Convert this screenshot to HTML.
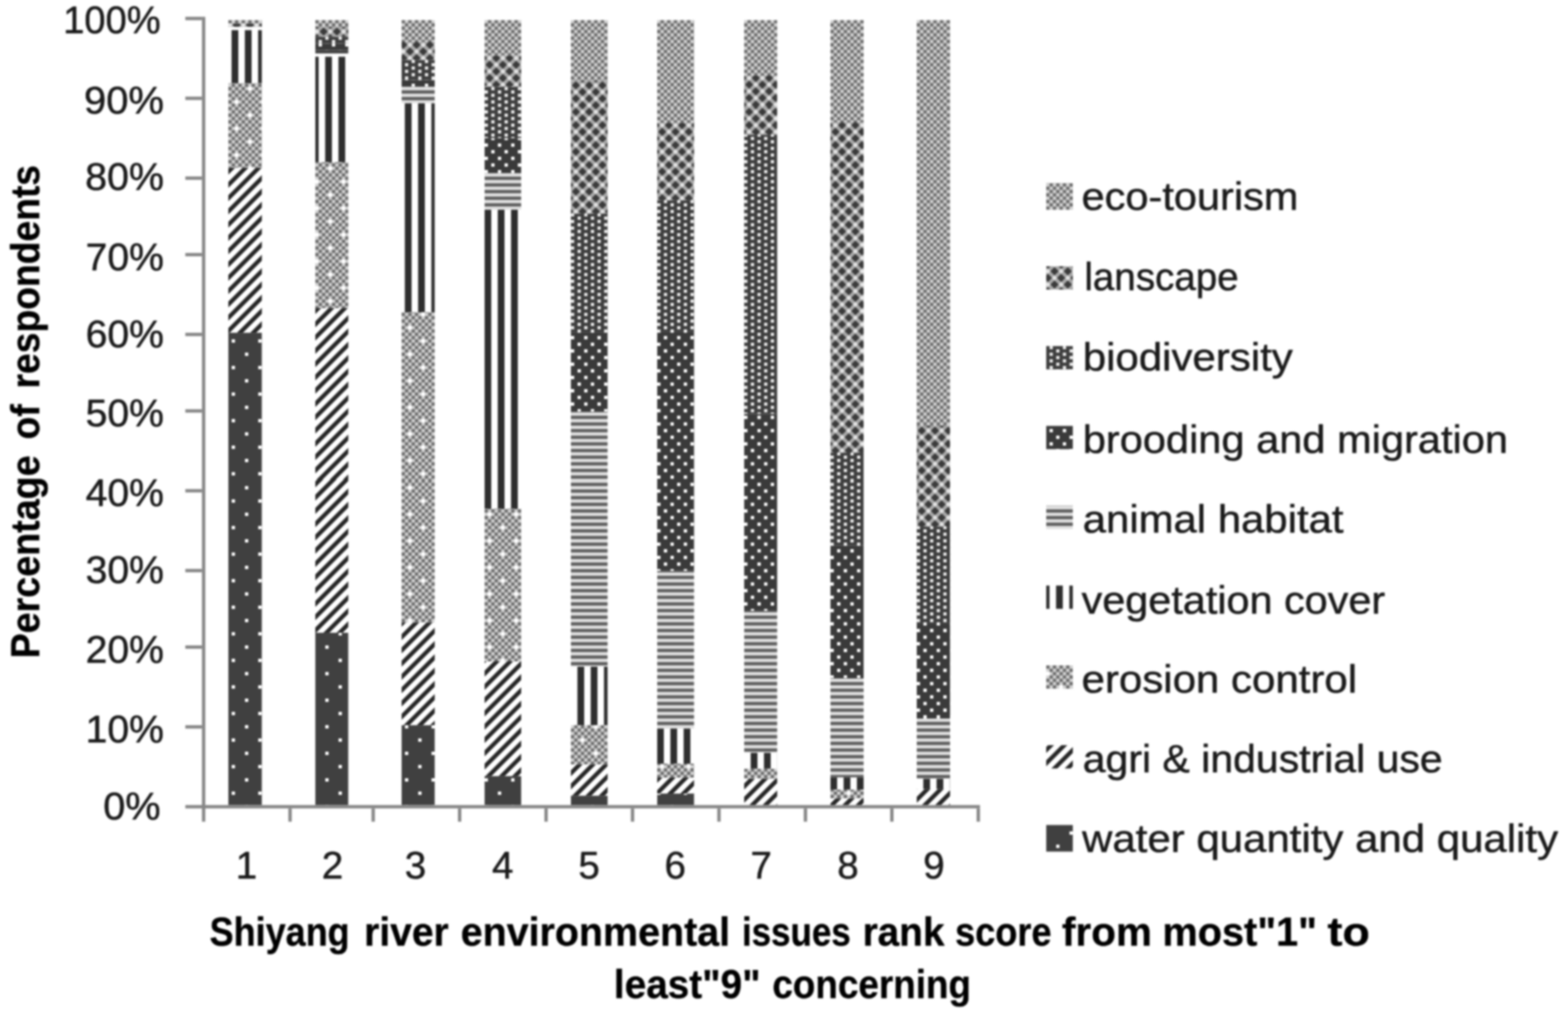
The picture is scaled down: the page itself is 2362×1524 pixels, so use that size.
<!DOCTYPE html>
<html lang="en">
<head>
<meta charset="utf-8">
<title>Shiyang river environmental issues rank score</title>
<style>
html,body{margin:0;padding:0;background:#fff;}
body{width:2362px;height:1524px;overflow:hidden;}
svg{display:block;}
text{font-family:"Liberation Sans", sans-serif;fill:#1a1a1a;stroke:#1a1a1a;stroke-width:0.7px;stroke-linejoin:round;}
</style>
</head>
<body>
<svg width="2362" height="1524" viewBox="0 0 2362 1524">
<defs>
<pattern id="eco" patternUnits="userSpaceOnUse" x="0" y="0" width="2" height="2" patternTransform="scale(5)"><rect width="2" height="2" fill="#d1d1d1"/><rect x="1" y="0" width="1" height="1" fill="#6e6e6e"/><rect x="0" y="1" width="1" height="1" fill="#6e6e6e"/></pattern>
<pattern id="land" patternUnits="userSpaceOnUse" x="0" y="0" width="4" height="4" patternTransform="scale(5)"><rect width="4" height="4" fill="#a8a8a8"/><polygon points="0.25,1.5 1.5,0.25 2.75,1.5 1.5,2.75" fill="#3a3a3a"/><polygon points="2.25,3.5 3.5,2.25 4.75,3.5 3.5,4.75" fill="#3a3a3a"/><polygon points="-1.75,-0.5 -0.5,-1.75 0.75,-0.5 -0.5,0.75" fill="#3a3a3a"/><polygon points="2.25,-0.5 3.5,-1.75 4.75,-0.5 3.5,0.75" fill="#3a3a3a"/><polygon points="-1.75,3.5 -0.5,2.25 0.75,3.5 -0.5,4.75" fill="#3a3a3a"/><polygon points="2.75,1.5 3.5,0.75 4.25,1.5 3.5,2.25" fill="#e8e8e8"/><polygon points="-1.25,1.5 -0.5,0.75 0.25,1.5 -0.5,2.25" fill="#e8e8e8"/><polygon points="0.75,3.5 1.5,2.75 2.25,3.5 1.5,4.25" fill="#e8e8e8"/><polygon points="0.75,-0.5 1.5,-1.25 2.25,-0.5 1.5,0.25" fill="#e8e8e8"/></pattern>
<pattern id="bio" patternUnits="userSpaceOnUse" x="0" y="0" width="4" height="2" patternTransform="scale(5)"><rect width="4" height="2" fill="#3e3e3e"/><rect x="0.02" y="0.02" width="0.96" height="0.96" fill="#f2f2f2"/><rect x="2.02" y="1.02" width="0.96" height="0.96" fill="#f2f2f2"/></pattern>
<pattern id="brood" patternUnits="userSpaceOnUse" x="0" y="0" width="4" height="4" patternTransform="scale(5)"><rect width="4" height="4" fill="#3a3a3a"/><rect x="0" y="1" width="1" height="1" fill="#fff"/><rect x="2" y="3" width="1" height="1" fill="#fff"/></pattern>
<pattern id="hab" patternUnits="userSpaceOnUse" x="0" y="0" width="2" height="2" patternTransform="scale(5)"><rect width="2" height="2" fill="#dfdfdf"/><rect x="0" y="1" width="2" height="1" fill="#606060"/></pattern>
<pattern id="veg" patternUnits="userSpaceOnUse" x="0" y="0" width="4" height="4" patternTransform="scale(5)"><rect width="4" height="4" fill="#fff"/><rect x="1.96" y="0" width="2.08" height="4" fill="#2e2e2e"/></pattern>
<pattern id="ero" patternUnits="userSpaceOnUse" x="0" y="0" width="8" height="8" patternTransform="scale(5)"><rect width="8" height="8" fill="#d1d1d1"/><rect x="1" y="0" width="1" height="1" fill="#6e6e6e"/><rect x="3" y="0" width="1" height="1" fill="#6e6e6e"/><rect x="5" y="0" width="1" height="1" fill="#6e6e6e"/><rect x="7" y="0" width="1" height="1" fill="#6e6e6e"/><rect x="0" y="1" width="1" height="1" fill="#6e6e6e"/><rect x="2" y="1" width="1" height="1" fill="#6e6e6e"/><rect x="4" y="1" width="1" height="1" fill="#6e6e6e"/><rect x="6" y="1" width="1" height="1" fill="#6e6e6e"/><rect x="1" y="2" width="1" height="1" fill="#6e6e6e"/><rect x="5" y="2" width="1" height="1" fill="#6e6e6e"/><rect x="7" y="2" width="1" height="1" fill="#6e6e6e"/><rect x="0" y="3" width="1" height="1" fill="#6e6e6e"/><rect x="2" y="3" width="1" height="1" fill="#6e6e6e"/><rect x="4" y="3" width="1" height="1" fill="#6e6e6e"/><rect x="6" y="3" width="1" height="1" fill="#6e6e6e"/><rect x="1" y="4" width="1" height="1" fill="#6e6e6e"/><rect x="3" y="4" width="1" height="1" fill="#6e6e6e"/><rect x="5" y="4" width="1" height="1" fill="#6e6e6e"/><rect x="7" y="4" width="1" height="1" fill="#6e6e6e"/><rect x="0" y="5" width="1" height="1" fill="#6e6e6e"/><rect x="2" y="5" width="1" height="1" fill="#6e6e6e"/><rect x="4" y="5" width="1" height="1" fill="#6e6e6e"/><rect x="6" y="5" width="1" height="1" fill="#6e6e6e"/><rect x="1" y="6" width="1" height="1" fill="#6e6e6e"/><rect x="3" y="6" width="1" height="1" fill="#6e6e6e"/><rect x="5" y="6" width="1" height="1" fill="#6e6e6e"/><rect x="0" y="7" width="1" height="1" fill="#6e6e6e"/><rect x="2" y="7" width="1" height="1" fill="#6e6e6e"/><rect x="4" y="7" width="1" height="1" fill="#6e6e6e"/><rect x="6" y="7" width="1" height="1" fill="#6e6e6e"/><rect x="2.92" y="1.92" width="1.16" height="1.16" fill="#fff"/><rect x="6.92" y="5.92" width="1.16" height="1.16" fill="#fff"/></pattern>
<pattern id="agri" patternUnits="userSpaceOnUse" x="0" y="0" width="4" height="4" patternTransform="scale(5)"><rect width="4" height="4" fill="#fff"/><polygon points="1.60,-2 3.40,-2 -4.60,6 -6.40,6" fill="#262626"/><polygon points="5.60,-2 7.40,-2 -0.60,6 -2.40,6" fill="#262626"/><polygon points="9.60,-2 11.40,-2 3.40,6 1.60,6" fill="#262626"/></pattern>
<pattern id="water" patternUnits="userSpaceOnUse" x="0" y="0" width="8" height="8" patternTransform="scale(5)"><rect width="8" height="8" fill="#404040"/><rect x="6" y="6" width="1" height="1" fill="#ffffff"/><rect x="2" y="2" width="1" height="1" fill="#ffffff"/></pattern>
<pattern id="eco0" href="#eco" patternTransform="translate(9 0) scale(5)"/>
<pattern id="land1" href="#land" patternTransform="translate(19 0) scale(5)"/>
<pattern id="veg2" href="#veg" patternTransform="translate(19 0) scale(5)"/>
<pattern id="ero3" href="#ero" patternTransform="translate(39 1) scale(5)"/>
<pattern id="agri4" href="#agri" patternTransform="translate(19 1) scale(5)"/>
<pattern id="water5" href="#water" patternTransform="translate(39 1) scale(5)"/>
<pattern id="water6" href="#water" patternTransform="translate(39 2) scale(5)"/>
<pattern id="eco7" href="#eco" patternTransform="translate(0 0) scale(5)"/>
<pattern id="land8" href="#land" patternTransform="translate(0 0) scale(5)"/>
<pattern id="bio9" href="#bio" patternTransform="translate(0 0) scale(5)"/>
<pattern id="brood10" href="#brood" patternTransform="translate(0 0) scale(5)"/>
<pattern id="veg11" href="#veg" patternTransform="translate(0 0) scale(5)"/>
<pattern id="veg12" href="#veg" patternTransform="translate(0 1) scale(5)"/>
<pattern id="ero13" href="#ero" patternTransform="translate(0 1) scale(5)"/>
<pattern id="agri14" href="#agri" patternTransform="translate(0 1) scale(5)"/>
<pattern id="agri15" href="#agri" patternTransform="translate(0 2) scale(5)"/>
<pattern id="water16" href="#water" patternTransform="translate(0 2) scale(5)"/>
<pattern id="brood17" href="#brood" patternTransform="translate(0 1) scale(5)"/>
<pattern id="hab18" href="#hab" patternTransform="translate(0 1) scale(5)"/>
<pattern id="ero19" href="#ero" patternTransform="translate(0 2) scale(5)"/>
<pattern id="bio20" href="#bio" patternTransform="translate(0 1) scale(5)"/>
<pattern id="veg21" href="#veg" patternTransform="translate(0 2) scale(5)"/>
<pattern id="land22" href="#land" patternTransform="translate(0 1) scale(5)"/>
<pattern id="hab23" href="#hab" patternTransform="translate(0 2) scale(5)"/>
<pattern id="eco24" href="#eco" patternTransform="translate(0 1) scale(5)"/>
<pattern id="brood25" href="#brood" patternTransform="translate(0 2) scale(5)"/>
<pattern id="eco26" href="#eco" patternTransform="translate(1 0) scale(5)"/>
<pattern id="land27" href="#land" patternTransform="translate(1 0) scale(5)"/>
<pattern id="land28" href="#land" patternTransform="translate(1 1) scale(5)"/>
<pattern id="bio29" href="#bio" patternTransform="translate(1 1) scale(5)"/>
<pattern id="brood30" href="#brood" patternTransform="translate(1 1) scale(5)"/>
<pattern id="brood31" href="#brood" patternTransform="translate(1 2) scale(5)"/>
<pattern id="hab32" href="#hab" patternTransform="translate(1 2) scale(5)"/>
<pattern id="veg33" href="#veg" patternTransform="translate(1 2) scale(5)"/>
<pattern id="ero34" href="#ero" patternTransform="translate(1 2) scale(5)"/>
<pattern id="agri35" href="#agri" patternTransform="translate(1 2) scale(5)"/>
<pattern id="eco36" href="#eco" patternTransform="translate(1 1) scale(5)"/>
<pattern id="bio37" href="#bio" patternTransform="translate(1 2) scale(5)"/>
<pattern id="land38" href="#land" patternTransform="translate(1 2) scale(5)"/>
<pattern id="water39" href="#water" patternTransform="translate(1 2) scale(5)"/>
<filter id="bl" color-interpolation-filters="sRGB" filterUnits="userSpaceOnUse" x="0" y="0" width="2362" height="1524"><feGaussianBlur stdDeviation="1.4"/></filter><filter id="tl" color-interpolation-filters="sRGB" filterUnits="userSpaceOnUse" x="0" y="0" width="2362" height="1524"><feGaussianBlur stdDeviation="1.6"/></filter>
</defs>
<rect width="2362" height="1524" fill="#fff"/>
<g filter="url(#bl)">
<g id="bars">
<rect x="344" y="30.35" width="50.37" height="5.01" fill="url(#eco0)"/>
<rect x="344" y="35.36" width="50.37" height="5.01" fill="url(#land1)"/>
<rect x="344" y="45.38" width="50.37" height="34.62" fill="url(#veg2)"/>
<rect x="344" y="80" width="50.37" height="45.51" fill="url(#veg2)"/>
<rect x="344" y="125.51" width="50.37" height="35.49" fill="url(#ero3)"/>
<rect x="344" y="161" width="50.37" height="80" fill="url(#ero3)"/>
<rect x="344" y="241" width="50.37" height="11.73" fill="url(#ero3)"/>
<rect x="344" y="252.73" width="50.37" height="68.27" fill="url(#agri4)"/>
<rect x="344" y="321" width="50.37" height="80" fill="url(#agri4)"/>
<rect x="344" y="401" width="50.37" height="80" fill="url(#agri4)"/>
<rect x="344" y="481" width="50.37" height="20.15" fill="url(#agri4)"/>
<rect x="344" y="501.15" width="50.37" height="59.85" fill="url(#water5)"/>
<rect x="344" y="561" width="50.37" height="80" fill="url(#water5)"/>
<rect x="344" y="641" width="50.37" height="81" fill="url(#water5)"/>
<rect x="344" y="722" width="50.37" height="80" fill="url(#water6)"/>
<rect x="344" y="802" width="50.37" height="80" fill="url(#water6)"/>
<rect x="344" y="882" width="50.37" height="80" fill="url(#water6)"/>
<rect x="344" y="962" width="50.37" height="80" fill="url(#water6)"/>
<rect x="344" y="1042" width="50.37" height="80" fill="url(#water6)"/>
<rect x="344" y="1122" width="50.37" height="80" fill="url(#water6)"/>
<rect x="344" y="1202" width="50.37" height="10.36" fill="url(#water6)"/>
<rect x="475" y="30.35" width="49.59" height="10.02" fill="url(#eco7)"/>
<rect x="475" y="40.37" width="49.59" height="15.03" fill="url(#land8)"/>
<rect x="475" y="55.39" width="49.59" height="10.02" fill="url(#bio9)"/>
<rect x="475" y="65.41" width="49.59" height="10.02" fill="url(#brood10)"/>
<rect x="475" y="75.43" width="49.59" height="5.01" fill="#404040"/>
<rect x="475" y="85.44" width="49.59" height="75.56" fill="url(#veg11)"/>
<rect x="475" y="161" width="49.59" height="80" fill="url(#veg12)"/>
<rect x="475" y="241" width="49.59" height="3.21" fill="url(#veg12)"/>
<rect x="475" y="244.21" width="49.59" height="76.79" fill="url(#ero13)"/>
<rect x="475" y="321" width="49.59" height="80" fill="url(#ero13)"/>
<rect x="475" y="401" width="49.59" height="63.09" fill="url(#ero13)"/>
<rect x="475" y="464.09" width="49.59" height="16.91" fill="url(#agri14)"/>
<rect x="475" y="481" width="49.59" height="80" fill="url(#agri14)"/>
<rect x="475" y="561" width="49.59" height="80" fill="url(#agri14)"/>
<rect x="475" y="641" width="49.59" height="81" fill="url(#agri14)"/>
<rect x="475" y="722" width="49.59" height="80" fill="url(#agri15)"/>
<rect x="475" y="802" width="49.59" height="80" fill="url(#agri15)"/>
<rect x="475" y="882" width="49.59" height="70.92" fill="url(#agri15)"/>
<rect x="475" y="952.92" width="49.59" height="9.08" fill="url(#water16)"/>
<rect x="475" y="962" width="49.59" height="80" fill="url(#water16)"/>
<rect x="475" y="1042" width="49.59" height="80" fill="url(#water16)"/>
<rect x="475" y="1122" width="49.59" height="80" fill="url(#water16)"/>
<rect x="475" y="1202" width="49.59" height="10.36" fill="url(#water16)"/>
<rect x="605" y="30.35" width="49.81" height="32.56" fill="url(#eco7)"/>
<rect x="605" y="62.91" width="49.81" height="17.09" fill="url(#land8)"/>
<rect x="605" y="80" width="49.81" height="10.45" fill="url(#land8)"/>
<rect x="605" y="90.45" width="49.81" height="30.05" fill="url(#bio9)"/>
<rect x="605" y="120.5" width="49.81" height="10.02" fill="url(#brood17)"/>
<rect x="605" y="130.52" width="49.81" height="25.04" fill="url(#hab18)"/>
<rect x="605" y="155.56" width="49.81" height="5.44" fill="url(#veg12)"/>
<rect x="605" y="161" width="49.81" height="80" fill="url(#veg12)"/>
<rect x="605" y="241" width="49.81" height="80" fill="url(#veg12)"/>
<rect x="605" y="321" width="49.81" height="80" fill="url(#veg12)"/>
<rect x="605" y="401" width="49.81" height="69.1" fill="url(#veg12)"/>
<rect x="605" y="470.1" width="49.81" height="10.9" fill="url(#ero13)"/>
<rect x="605" y="481" width="49.81" height="80" fill="url(#ero13)"/>
<rect x="605" y="561" width="49.81" height="80" fill="url(#ero13)"/>
<rect x="605" y="641" width="49.81" height="81" fill="url(#ero13)"/>
<rect x="605" y="722" width="49.81" height="80" fill="url(#ero19)"/>
<rect x="605" y="802" width="49.81" height="80" fill="url(#ero19)"/>
<rect x="605" y="882" width="49.81" height="55.39" fill="url(#ero19)"/>
<rect x="605" y="937.39" width="49.81" height="24.61" fill="url(#agri15)"/>
<rect x="605" y="962" width="49.81" height="80" fill="url(#agri15)"/>
<rect x="605" y="1042" width="49.81" height="50.15" fill="url(#agri15)"/>
<rect x="605" y="1092.15" width="49.81" height="29.85" fill="url(#water16)"/>
<rect x="605" y="1122" width="49.81" height="80" fill="url(#water16)"/>
<rect x="605" y="1202" width="49.81" height="10.36" fill="url(#water16)"/>
<rect x="730" y="30.35" width="55.03" height="49.65" fill="url(#eco7)"/>
<rect x="730" y="80" width="55.03" height="3.44" fill="url(#eco7)"/>
<rect x="730" y="83.44" width="55.03" height="47.08" fill="url(#land8)"/>
<rect x="730" y="130.52" width="55.03" height="30.48" fill="url(#bio20)"/>
<rect x="730" y="161" width="55.03" height="47.15" fill="url(#bio20)"/>
<rect x="730" y="208.15" width="55.03" height="32.85" fill="url(#brood17)"/>
<rect x="730" y="241" width="55.03" height="19.74" fill="url(#brood17)"/>
<rect x="730" y="260.74" width="55.03" height="55.09" fill="url(#hab18)"/>
<rect x="730" y="315.84" width="55.03" height="5.16" fill="url(#veg12)"/>
<rect x="730" y="321" width="55.03" height="80" fill="url(#veg12)"/>
<rect x="730" y="401" width="55.03" height="80" fill="url(#veg12)"/>
<rect x="730" y="481" width="55.03" height="80" fill="url(#veg12)"/>
<rect x="730" y="561" width="55.03" height="80" fill="url(#veg12)"/>
<rect x="730" y="641" width="55.03" height="81" fill="url(#veg12)"/>
<rect x="730" y="722" width="55.03" height="44.1" fill="url(#veg21)"/>
<rect x="730" y="766.1" width="55.03" height="35.9" fill="url(#ero19)"/>
<rect x="730" y="802" width="55.03" height="80" fill="url(#ero19)"/>
<rect x="730" y="882" width="55.03" height="80" fill="url(#ero19)"/>
<rect x="730" y="962" width="55.03" height="33.99" fill="url(#ero19)"/>
<rect x="730" y="995.99" width="55.03" height="46.01" fill="url(#agri15)"/>
<rect x="730" y="1042" width="55.03" height="80" fill="url(#agri15)"/>
<rect x="730" y="1122" width="55.03" height="46.78" fill="url(#agri15)"/>
<rect x="730" y="1168.78" width="55.03" height="33.22" fill="url(#water16)"/>
<rect x="730" y="1202" width="55.03" height="10.36" fill="url(#water16)"/>
<rect x="860" y="30.35" width="55.26" height="49.65" fill="url(#eco7)"/>
<rect x="860" y="80" width="55.26" height="41.51" fill="url(#eco7)"/>
<rect x="860" y="121.51" width="55.26" height="39.49" fill="url(#land22)"/>
<rect x="860" y="161" width="55.26" height="80" fill="url(#land22)"/>
<rect x="860" y="241" width="55.26" height="80" fill="url(#land22)"/>
<rect x="860" y="321" width="55.26" height="0.85" fill="url(#land22)"/>
<rect x="860" y="321.85" width="55.26" height="79.15" fill="url(#bio20)"/>
<rect x="860" y="401" width="55.26" height="80" fill="url(#bio20)"/>
<rect x="860" y="481" width="55.26" height="19.15" fill="url(#bio20)"/>
<rect x="860" y="500.15" width="55.26" height="60.85" fill="url(#brood17)"/>
<rect x="860" y="561" width="55.26" height="58.85" fill="url(#brood17)"/>
<rect x="860" y="619.85" width="55.26" height="21.15" fill="url(#hab18)"/>
<rect x="860" y="641" width="55.26" height="81" fill="url(#hab18)"/>
<rect x="860" y="722" width="55.26" height="80" fill="url(#hab23)"/>
<rect x="860" y="802" width="55.26" height="80" fill="url(#hab23)"/>
<rect x="860" y="882" width="55.26" height="80" fill="url(#hab23)"/>
<rect x="860" y="962" width="55.26" height="42" fill="url(#hab23)"/>
<rect x="860" y="1004" width="55.26" height="38" fill="url(#veg21)"/>
<rect x="860" y="1042" width="55.26" height="50.15" fill="url(#veg21)"/>
<rect x="860" y="1092.15" width="55.26" height="29.85" fill="url(#ero19)"/>
<rect x="860" y="1122" width="55.26" height="29.25" fill="url(#ero19)"/>
<rect x="860" y="1151.25" width="55.26" height="47.08" fill="url(#agri15)"/>
<rect x="860" y="1198.33" width="55.26" height="3.67" fill="url(#water16)"/>
<rect x="860" y="1202" width="55.26" height="10.36" fill="url(#water16)"/>
<rect x="990" y="30.35" width="55.48" height="49.65" fill="url(#eco7)"/>
<rect x="990" y="80" width="55.48" height="81" fill="url(#eco7)"/>
<rect x="990" y="161" width="55.48" height="24.11" fill="url(#eco24)"/>
<rect x="990" y="185.11" width="55.48" height="55.89" fill="url(#land22)"/>
<rect x="990" y="241" width="55.48" height="60.81" fill="url(#land22)"/>
<rect x="990" y="301.81" width="55.48" height="19.19" fill="url(#bio20)"/>
<rect x="990" y="321" width="55.48" height="80" fill="url(#bio20)"/>
<rect x="990" y="401" width="55.48" height="80" fill="url(#bio20)"/>
<rect x="990" y="481" width="55.48" height="18.15" fill="url(#bio20)"/>
<rect x="990" y="499.15" width="55.48" height="61.85" fill="url(#brood17)"/>
<rect x="990" y="561" width="55.48" height="80" fill="url(#brood17)"/>
<rect x="990" y="641" width="55.48" height="81" fill="url(#brood17)"/>
<rect x="990" y="722" width="55.48" height="80" fill="url(#brood25)"/>
<rect x="990" y="802" width="55.48" height="57.76" fill="url(#brood25)"/>
<rect x="990" y="859.76" width="55.48" height="22.24" fill="url(#hab23)"/>
<rect x="990" y="882" width="55.48" height="80" fill="url(#hab23)"/>
<rect x="990" y="962" width="55.48" height="80" fill="url(#hab23)"/>
<rect x="990" y="1042" width="55.48" height="55.16" fill="url(#hab23)"/>
<rect x="990" y="1097.16" width="55.48" height="24.84" fill="url(#veg21)"/>
<rect x="990" y="1122" width="55.48" height="28" fill="url(#veg21)"/>
<rect x="990" y="1150" width="55.48" height="21.04" fill="url(#ero19)"/>
<rect x="990" y="1171.04" width="55.48" height="24.04" fill="url(#agri15)"/>
<rect x="990" y="1195.08" width="55.48" height="6.92" fill="url(#water16)"/>
<rect x="990" y="1202" width="55.48" height="10.36" fill="url(#water16)"/>
<rect x="1121" y="30.35" width="49.69" height="49.65" fill="url(#eco26)"/>
<rect x="1121" y="80" width="49.69" height="33.99" fill="url(#eco26)"/>
<rect x="1121" y="113.99" width="49.69" height="47.01" fill="url(#land27)"/>
<rect x="1121" y="161" width="49.69" height="42.14" fill="url(#land28)"/>
<rect x="1121" y="203.14" width="49.69" height="37.86" fill="url(#bio29)"/>
<rect x="1121" y="241" width="49.69" height="80" fill="url(#bio29)"/>
<rect x="1121" y="321" width="49.69" height="80" fill="url(#bio29)"/>
<rect x="1121" y="401" width="49.69" height="80" fill="url(#bio29)"/>
<rect x="1121" y="481" width="49.69" height="80" fill="url(#bio29)"/>
<rect x="1121" y="561" width="49.69" height="62.36" fill="url(#bio29)"/>
<rect x="1121" y="623.36" width="49.69" height="17.64" fill="url(#brood30)"/>
<rect x="1121" y="641" width="49.69" height="81" fill="url(#brood30)"/>
<rect x="1121" y="722" width="49.69" height="80" fill="url(#brood31)"/>
<rect x="1121" y="802" width="49.69" height="80" fill="url(#brood31)"/>
<rect x="1121" y="882" width="49.69" height="37.86" fill="url(#brood31)"/>
<rect x="1121" y="919.86" width="49.69" height="42.14" fill="url(#hab32)"/>
<rect x="1121" y="962" width="49.69" height="80" fill="url(#hab32)"/>
<rect x="1121" y="1042" width="49.69" height="80" fill="url(#hab32)"/>
<rect x="1121" y="1122" width="49.69" height="11.72" fill="url(#hab32)"/>
<rect x="1121" y="1133.72" width="49.69" height="24.04" fill="url(#veg33)"/>
<rect x="1121" y="1157.76" width="49.69" height="15.03" fill="url(#ero34)"/>
<rect x="1121" y="1172.79" width="49.69" height="29.21" fill="url(#agri35)"/>
<rect x="1121" y="1202" width="49.69" height="10.36" fill="url(#agri35)"/>
<rect x="1251" y="30.35" width="49.91" height="49.65" fill="url(#eco26)"/>
<rect x="1251" y="80" width="49.91" height="81" fill="url(#eco26)"/>
<rect x="1251" y="161" width="49.91" height="23.11" fill="url(#eco36)"/>
<rect x="1251" y="184.11" width="49.91" height="56.89" fill="url(#land28)"/>
<rect x="1251" y="241" width="49.91" height="80" fill="url(#land28)"/>
<rect x="1251" y="321" width="49.91" height="80" fill="url(#land28)"/>
<rect x="1251" y="401" width="49.91" height="80" fill="url(#land28)"/>
<rect x="1251" y="481" width="49.91" height="80" fill="url(#land28)"/>
<rect x="1251" y="561" width="49.91" height="80" fill="url(#land28)"/>
<rect x="1251" y="641" width="49.91" height="40.96" fill="url(#land28)"/>
<rect x="1251" y="681.96" width="49.91" height="40.04" fill="url(#bio29)"/>
<rect x="1251" y="722" width="49.91" height="80" fill="url(#bio37)"/>
<rect x="1251" y="802" width="49.91" height="19.69" fill="url(#bio37)"/>
<rect x="1251" y="821.69" width="49.91" height="60.31" fill="url(#brood31)"/>
<rect x="1251" y="882" width="49.91" height="80" fill="url(#brood31)"/>
<rect x="1251" y="962" width="49.91" height="59.03" fill="url(#brood31)"/>
<rect x="1251" y="1021.03" width="49.91" height="20.97" fill="url(#hab32)"/>
<rect x="1251" y="1042" width="49.91" height="80" fill="url(#hab32)"/>
<rect x="1251" y="1122" width="49.91" height="48.79" fill="url(#hab32)"/>
<rect x="1251" y="1170.79" width="49.91" height="18.28" fill="url(#veg33)"/>
<rect x="1251" y="1189.07" width="49.91" height="13.27" fill="url(#ero34)"/>
<rect x="1251" y="1202.34" width="49.91" height="10.02" fill="url(#agri35)"/>
<rect x="1381" y="30.35" width="50.13" height="49.65" fill="url(#eco26)"/>
<rect x="1381" y="80" width="50.13" height="81" fill="url(#eco26)"/>
<rect x="1381" y="161" width="50.13" height="80" fill="url(#eco36)"/>
<rect x="1381" y="241" width="50.13" height="80" fill="url(#eco36)"/>
<rect x="1381" y="321" width="50.13" height="80" fill="url(#eco36)"/>
<rect x="1381" y="401" width="50.13" height="80" fill="url(#eco36)"/>
<rect x="1381" y="481" width="50.13" height="80" fill="url(#eco36)"/>
<rect x="1381" y="561" width="50.13" height="79.89" fill="url(#eco36)"/>
<rect x="1381" y="640.89" width="50.13" height="0.11" fill="url(#land28)"/>
<rect x="1381" y="641" width="50.13" height="81" fill="url(#land28)"/>
<rect x="1381" y="722" width="50.13" height="71.15" fill="url(#land38)"/>
<rect x="1381" y="793.15" width="50.13" height="8.85" fill="url(#bio37)"/>
<rect x="1381" y="802" width="50.13" height="80" fill="url(#bio37)"/>
<rect x="1381" y="882" width="50.13" height="56.89" fill="url(#bio37)"/>
<rect x="1381" y="938.89" width="50.13" height="23.11" fill="url(#brood31)"/>
<rect x="1381" y="962" width="50.13" height="80" fill="url(#brood31)"/>
<rect x="1381" y="1042" width="50.13" height="40.14" fill="url(#brood31)"/>
<rect x="1381" y="1082.14" width="50.13" height="39.86" fill="url(#hab32)"/>
<rect x="1381" y="1122" width="50.13" height="50.79" fill="url(#hab32)"/>
<rect x="1381" y="1172.79" width="50.13" height="15.53" fill="url(#veg33)"/>
<rect x="1381" y="1188.32" width="50.13" height="13.68" fill="url(#agri35)"/>
<rect x="1381" y="1202" width="50.13" height="10.36" fill="url(#agri35)"/>
</g>
<g id="axes">
<rect x="304.22" y="25.34" width="5.01" height="1212.06" fill="#868686"/>
<rect x="279.18" y="1212.36" width="1197.03" height="5.01" fill="#868686"/>
<rect x="279.18" y="25.34" width="25.04" height="5.01" fill="#868686"/>
<rect x="279.18" y="145.55" width="25.04" height="5.01" fill="#868686"/>
<rect x="279.18" y="265.75" width="25.04" height="5.01" fill="#868686"/>
<rect x="279.18" y="380.95" width="25.04" height="5.01" fill="#868686"/>
<rect x="279.18" y="501.15" width="25.04" height="5.01" fill="#868686"/>
<rect x="279.18" y="616.35" width="25.04" height="5.01" fill="#868686"/>
<rect x="279.18" y="736.55" width="25.04" height="5.01" fill="#868686"/>
<rect x="279.18" y="856.75" width="25.04" height="5.01" fill="#868686"/>
<rect x="279.18" y="971.95" width="25.04" height="5.01" fill="#868686"/>
<rect x="279.18" y="1092.15" width="25.04" height="5.01" fill="#868686"/>
<rect x="434.44" y="1217.37" width="5.01" height="20.03" fill="#868686"/>
<rect x="559.65" y="1217.37" width="5.01" height="20.03" fill="#868686"/>
<rect x="689.87" y="1217.37" width="5.01" height="20.03" fill="#868686"/>
<rect x="820.09" y="1217.37" width="5.01" height="20.03" fill="#868686"/>
<rect x="950.31" y="1217.37" width="5.01" height="20.03" fill="#868686"/>
<rect x="1080.54" y="1217.37" width="5.01" height="20.03" fill="#868686"/>
<rect x="1210.76" y="1217.37" width="5.01" height="20.03" fill="#868686"/>
<rect x="1340.98" y="1217.37" width="5.01" height="20.03" fill="#868686"/>
<rect x="1471.2" y="1217.37" width="5.01" height="20.03" fill="#868686"/>
</g>
<g id="legend-keys">
<rect x="1576" y="275.77" width="40.07" height="40.07" fill="url(#eco36)"/>
<rect x="1576" y="400.98" width="40.07" height="35.06" fill="url(#land28)"/>
<rect x="1576" y="521.18" width="40.07" height="35.06" fill="url(#bio29)"/>
<rect x="1576" y="641.39" width="40.07" height="35.06" fill="url(#brood30)"/>
<rect x="1576" y="761.59" width="40.07" height="35.06" fill="url(#hab32)"/>
<rect x="1576" y="881.8" width="40.07" height="35.06" fill="url(#veg33)"/>
<rect x="1576" y="1002" width="40.07" height="35.06" fill="url(#ero34)"/>
<rect x="1576" y="1122.2" width="40.07" height="35.06" fill="url(#agri35)"/>
<rect x="1576" y="1242.41" width="40.07" height="40.07" fill="url(#water39)"/>
</g>
</g>
<g id="labels" filter="url(#tl)">
<text x="95.2" y="50.3" font-size="58" textLength="146.8" lengthAdjust="spacingAndGlyphs">100%</text>
<text x="126.5" y="171.1" font-size="58" textLength="120.5" lengthAdjust="spacingAndGlyphs">90%</text>
<text x="128.2" y="286.4" font-size="58" textLength="118.8" lengthAdjust="spacingAndGlyphs">80%</text>
<text x="129" y="407.2" font-size="58" textLength="118" lengthAdjust="spacingAndGlyphs">70%</text>
<text x="129" y="522.5" font-size="58" textLength="118" lengthAdjust="spacingAndGlyphs">60%</text>
<text x="129" y="642.4" font-size="58" textLength="118" lengthAdjust="spacingAndGlyphs">50%</text>
<text x="129" y="762.4" font-size="58" textLength="118" lengthAdjust="spacingAndGlyphs">40%</text>
<text x="129" y="878.3" font-size="58" textLength="118" lengthAdjust="spacingAndGlyphs">30%</text>
<text x="129" y="998.1" font-size="58" textLength="118" lengthAdjust="spacingAndGlyphs">20%</text>
<text x="129" y="1118.1" font-size="58" textLength="118" lengthAdjust="spacingAndGlyphs">10%</text>
<text x="155.6" y="1234" font-size="58" textLength="86.4" lengthAdjust="spacingAndGlyphs">0%</text>
<text x="371.4" y="1322.8" font-size="58" text-anchor="middle">1</text>
<text x="501" y="1322.8" font-size="58" text-anchor="middle">2</text>
<text x="626" y="1322.8" font-size="58" text-anchor="middle">3</text>
<text x="757.5" y="1322.8" font-size="58" text-anchor="middle">4</text>
<text x="887.5" y="1322.8" font-size="58" text-anchor="middle">5</text>
<text x="1017.2" y="1322.8" font-size="58" text-anchor="middle">6</text>
<text x="1146.7" y="1322.8" font-size="58" text-anchor="middle">7</text>
<text x="1277.5" y="1322.8" font-size="58" text-anchor="middle">8</text>
<text x="1407" y="1322.8" font-size="58" text-anchor="middle">9</text>
<text x="1629.3" y="315.7" font-size="59.5" textLength="326.6" lengthAdjust="spacingAndGlyphs">eco-tourism</text>
<text x="1633.4" y="436.6" font-size="59.5" textLength="232.5" lengthAdjust="spacingAndGlyphs">lanscape</text>
<text x="1631" y="557.8" font-size="59.5" textLength="316.4" lengthAdjust="spacingAndGlyphs">biodiversity</text>
<text x="1631" y="681.7" font-size="59.5" textLength="640.7" lengthAdjust="spacingAndGlyphs">brooding and migration</text>
<text x="1631" y="802.3" font-size="59.5" textLength="392.8" lengthAdjust="spacingAndGlyphs">animal habitat</text>
<text x="1629.3" y="923.8" font-size="59.5" textLength="457.3" lengthAdjust="spacingAndGlyphs">vegetation cover</text>
<text x="1629.3" y="1042.7" font-size="59.5" textLength="414.9" lengthAdjust="spacingAndGlyphs">erosion control</text>
<text x="1631" y="1163.2" font-size="59.5" textLength="542.2" lengthAdjust="spacingAndGlyphs">agri &amp; industrial use</text>
<text x="1630" y="1283.3" font-size="59.5" textLength="717" lengthAdjust="spacingAndGlyphs">water quantity and quality</text>
<text y="1423.6" font-size="62" font-weight="bold" style="fill:#000;stroke:#000;stroke-width:0.5px"><tspan x="315.8" textLength="210.9" lengthAdjust="spacingAndGlyphs">Shiyang</tspan> <tspan x="548.6" textLength="127.4" lengthAdjust="spacingAndGlyphs">river</tspan> <tspan x="693.9" textLength="405.9" lengthAdjust="spacingAndGlyphs">environmental</tspan> <tspan x="1117.7" textLength="163.8" lengthAdjust="spacingAndGlyphs">issues</tspan> <tspan x="1299.4" textLength="123.4" lengthAdjust="spacingAndGlyphs">rank</tspan> <tspan x="1438.7" textLength="145.3" lengthAdjust="spacingAndGlyphs">score</tspan> <tspan x="1599.8" textLength="135.4" lengthAdjust="spacingAndGlyphs">from</tspan> <tspan x="1751" textLength="232.9" lengthAdjust="spacingAndGlyphs">most&quot;1&quot;</tspan> <tspan x="1999.8" textLength="63.7" lengthAdjust="spacingAndGlyphs">to</tspan></text>
<text y="1503.2" font-size="62" font-weight="bold" style="fill:#000;stroke:#000;stroke-width:0.5px"><tspan x="924.7" textLength="220.9" lengthAdjust="spacingAndGlyphs">least&quot;9&quot;</tspan> <tspan x="1163.5" textLength="299.1" lengthAdjust="spacingAndGlyphs">concerning</tspan></text>
<text transform="translate(59 0) rotate(-90)" y="0" font-size="62" font-weight="bold" style="fill:#000;stroke:#000;stroke-width:0.5px"><tspan x="-991.6" textLength="305.8" lengthAdjust="spacingAndGlyphs">Percentage</tspan> <tspan x="-661.7" textLength="52.7" lengthAdjust="spacingAndGlyphs">of</tspan> <tspan x="-585" textLength="336.5" lengthAdjust="spacingAndGlyphs">respondents</tspan></text>
</g>
</svg>
</body>
</html>
